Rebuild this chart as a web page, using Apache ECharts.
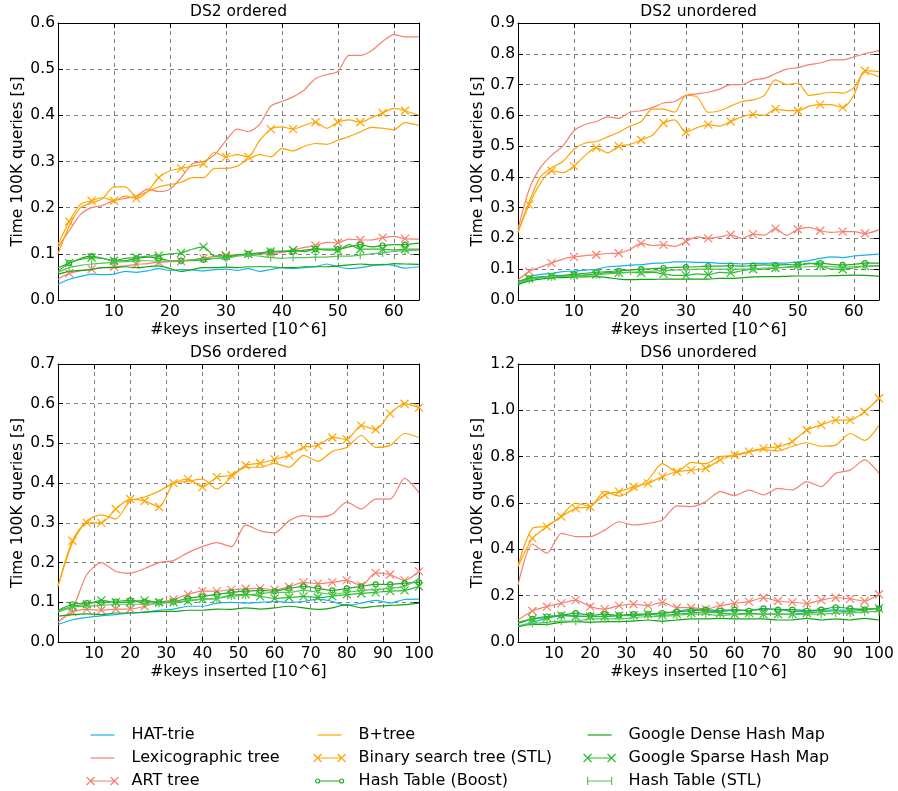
<!DOCTYPE html>
<html>
<head>
<meta charset="utf-8">
<script src="https://cdn.jsdelivr.net/npm/echarts@6/dist/echarts.min.js"></script>
<style>
  html, body { margin: 0; padding: 0; background: #fff; }
  #chart { width: 898px; height: 791px; }
</style>
</head>
<body>
<div id="chart"></div>
<script>
// ---- x positions (millions of keys inserted) ----
const xDS2 = [0, 2, 4, 6, 8, 10, 12, 14, 16, 18, 20, 22, 24, 26, 28, 30, 32, 34, 36, 38, 40, 42, 44, 46, 48, 50, 52, 54, 56, 58, 60, 62, 64.5];
const xDS6 = [0, 4, 8, 12, 16, 20, 24, 28, 32, 36, 40, 44, 48, 52, 56, 60, 64, 68, 72, 76, 80, 84, 88, 92, 96, 100];

// ---- DS2 ordered: time for 100K queries [s] ----
const ds2OrdHatTrie = [.034, .045, .051, .056, .055, .056, .062, .060, .063, .068, .064, .066, .065, .063, .066, .067, .064, .068, .062, .066, .070, .068, .070, .072, .078, .072, .068, .070, .074, .077, .075, .069, .072];
const ds2OrdLexTree = [.115, .150, .185, .200, .205, .215, .220, .225, .240, .235, .240, .265, .295, .300, .315, .345, .370, .365, .380, .420, .430, .440, .455, .480, .488, .495, .530, .530, .540, .560, .575, .570, .570];
const ds2OrdArtTree = [.045, .058, .063, .067, .070, .072, .074, .077, .079, .082, .083, .084, .087, .090, .095, .097, .097, .100, .100, .100, .103, .108, .114, .118, .125, .124, .132, .130, .130, .135, .138, .133, .132];
const ds2OrdBPlus = [.100, .160, .200, .210, .220, .245, .245, .225, .235, .245, .250, .255, .265, .265, .285, .285, .290, .305, .315, .310, .328, .323, .333, .339, .337, .346, .354, .364, .374, .372, .369, .384, .378];
const ds2OrdBst = [.120, .170, .207, .215, .222, .215, .225, .220, .235, .265, .280, .285, .290, .295, .320, .310, .315, .310, .345, .370, .375, .370, .378, .385, .372, .385, .390, .385, .395, .405, .415, .410, .400];
const ds2OrdBoost = [.070, .080, .090, .095, .090, .085, .085, .090, .093, .090, .085, .085, .085, .087, .090, .092, .097, .100, .102, .105, .106, .105, .108, .110, .110, .110, .115, .120, .115, .118, .120, .120, .123];
const ds2OrdDense = [.056, .062, .064, .066, .070, .070, .072, .070, .072, .074, .068, .062, .066, .070, .070, .071, .070, .072, .072, .072, .070, .070, .072, .072, .072, .074, .076, .078, .076, .076, .079, .078, .077];
const ds2OrdSparse = [.062, .080, .088, .092, .090, .085, .090, .092, .095, .096, .100, .102, .110, .115, .095, .095, .097, .100, .100, .105, .105, .108, .105, .110, .108, .108, .120, .110, .110, .110, .108, .110, .110];
const ds2OrdStl = [.060, .070, .075, .078, .080, .082, .083, .085, .085, .084, .085, .085, .087, .090, .090, .090, .095, .097, .095, .092, .090, .092, .092, .093, .093, .095, .095, .097, .100, .102, .105, .107, .108];

// ---- DS2 unordered ----
const ds2UnoHatTrie = [.048, .075, .083, .086, .092, .094, .097, .100, .108, .110, .113, .115, .119, .120, .124, .124, .122, .122, .119, .119, .117, .119, .119, .120, .120, .124, .128, .135, .140, .138, .143, .146, .149];
const ds2UnoLexTree = [.230, .360, .430, .470, .500, .550, .570, .580, .595, .590, .610, .615, .625, .640, .645, .665, .670, .675, .685, .700, .700, .715, .720, .735, .750, .755, .765, .770, .780, .780, .790, .800, .810];
const ds2UnoArtTree = [.065, .093, .107, .120, .133, .140, .144, .147, .151, .152, .164, .184, .177, .179, .174, .190, .205, .200, .205, .212, .200, .214, .211, .232, .210, .230, .236, .225, .220, .222, .222, .216, .228];
const ds2UnoBPlus = [.220, .320, .400, .430, .450, .490, .510, .515, .530, .545, .565, .580, .620, .620, .610, .665, .660, .610, .615, .630, .645, .650, .665, .715, .700, .705, .665, .670, .675, .672, .690, .740, .725];
const ds2UnoBst = [.220, .310, .380, .420, .414, .435, .470, .495, .478, .500, .505, .520, .535, .575, .585, .545, .560, .570, .565, .580, .595, .603, .600, .620, .615, .615, .630, .635, .635, .625, .665, .745, .742];
const ds2UnoBoost = [.060, .070, .075, .078, .080, .083, .087, .090, .092, .095, .097, .100, .102, .104, .106, .107, .108, .110, .110, .112, .110, .112, .114, .113, .115, .114, .118, .120, .116, .114, .116, .120, .120];
const ds2UnoDense = [.050, .062, .068, .072, .073, .075, .075, .076, .073, .068, .066, .067, .067, .068, .068, .068, .068, .068, .070, .070, .072, .075, .076, .076, .077, .078, .078, .078, .079, .080, .081, .080, .077];
const ds2UnoSparse = [.060, .070, .075, .077, .078, .080, .082, .083, .090, .088, .090, .088, .090, .085, .080, .080, .085, .082, .090, .088, .095, .100, .100, .104, .107, .112, .120, .112, .100, .100, .104, .110, .112];
const ds2UnoStl = [.055, .066, .072, .075, .077, .078, .080, .082, .085, .088, .090, .092, .094, .095, .097, .098, .100, .100, .100, .100, .100, .102, .104, .105, .106, .107, .108, .110, .108, .106, .108, .110, .110];

// ---- DS6 ordered ----
const ds6OrdHatTrie = [.044, .056, .062, .066, .069, .073, .075, .080, .083, .090, .090, .098, .100, .098, .100, .102, .100, .102, .108, .102, .092, .098, .105, .098, .107, .108];
const ds6OrdLexTree = [.050, .085, .170, .200, .178, .173, .185, .200, .205, .225, .240, .250, .240, .295, .280, .275, .305, .318, .315, .322, .352, .335, .360, .360, .412, .376];
const ds6OrdArtTree = [.050, .075, .082, .080, .083, .083, .090, .100, .107, .120, .128, .128, .132, .134, .135, .132, .139, .150, .147, .150, .155, .142, .174, .170, .155, .178];
const ds6OrdBPlus = [.140, .250, .305, .320, .310, .355, .365, .380, .400, .405, .410, .385, .415, .440, .440, .450, .440, .470, .455, .480, .490, .520, .490, .495, .525, .515];
const ds6OrdBst = [.140, .255, .300, .300, .335, .360, .355, .340, .400, .410, .390, .415, .420, .445, .450, .460, .470, .490, .495, .515, .510, .545, .535, .575, .600, .590];
const ds6OrdBoost = [.080, .095, .098, .100, .102, .105, .102, .100, .102, .110, .115, .120, .125, .128, .130, .128, .135, .140, .135, .130, .135, .140, .145, .145, .148, .150];
const ds6OrdDense = [.065, .069, .071, .069, .073, .073, .075, .077, .077, .080, .080, .083, .082, .086, .083, .086, .090, .086, .082, .086, .094, .086, .090, .092, .094, .098];
const ds6OrdSparse = [.078, .090, .095, .105, .100, .100, .105, .100, .100, .103, .108, .110, .118, .120, .115, .110, .112, .115, .112, .115, .120, .122, .125, .128, .130, .140];
const ds6OrdStl = [.075, .088, .090, .092, .095, .095, .095, .097, .100, .105, .108, .110, .115, .118, .122, .125, .125, .130, .125, .120, .125, .130, .132, .135, .140, .160];

// ---- DS6 unordered ----
const ds6UnoHatTrie = [.066, .085, .102, .114, .114, .109, .109, .114, .114, .119, .124, .131, .142, .134, .131, .138, .134, .142, .142, .131, .131, .138, .138, .138, .142, .145];
const ds6UnoLexTree = [.246, .423, .383, .469, .455, .455, .483, .519, .505, .512, .527, .588, .584, .606, .649, .632, .656, .635, .663, .656, .692, .671, .728, .742, .786, .728];
const ds6UnoArtTree = [.095, .134, .153, .167, .181, .153, .142, .157, .163, .157, .171, .148, .148, .142, .157, .167, .174, .191, .177, .171, .167, .181, .191, .186, .177, .206];
const ds6UnoBPlus = [.330, .490, .500, .545, .600, .585, .650, .630, .660, .700, .770, .735, .775, .770, .800, .805, .820, .830, .825, .845, .860, .845, .850, .900, .870, .935];
const ds6UnoBst = [.325, .447, .498, .541, .577, .584, .635, .649, .670, .685, .714, .735, .742, .750, .786, .807, .822, .836, .843, .865, .915, .937, .958, .958, .994, 1.052];
const ds6UnoBoost = [.080, .100, .110, .115, .125, .115, .120, .115, .120, .120, .125, .130, .135, .140, .135, .140, .135, .145, .140, .140, .135, .140, .150, .145, .140, .145];
const ds6UnoDense = [.066, .076, .076, .085, .088, .085, .088, .088, .090, .095, .090, .095, .100, .100, .102, .100, .100, .100, .095, .095, .102, .095, .100, .095, .102, .095];
const ds6UnoSparse = [.085, .100, .105, .115, .110, .110, .110, .115, .115, .120, .115, .120, .125, .130, .125, .120, .125, .120, .120, .120, .125, .130, .135, .130, .140, .145];
const ds6UnoStl = [.070, .080, .085, .090, .090, .100, .100, .100, .105, .110, .110, .115, .120, .120, .115, .118, .120, .120, .120, .118, .120, .120, .125, .125, .130, .132];

// ---- panel titles and axis ranges ----
const panelTitles = ['DS2 ordered', 'DS2 unordered', 'DS6 ordered', 'DS6 unordered'];
const yMax = [0.6, 0.9, 0.7, 1.2];
const yStep = [0.1, 0.1, 0.1, 0.2];
const xMax = [64.5, 64.5, 100, 100];

const seriesNames = ['HAT-trie', 'Lexicographic tree', 'ART tree', 'B+tree', 'Binary search tree (STL)', 'Hash Table (Boost)', 'Google Dense Hash Map', 'Google Sparse Hash Map', 'Hash Table (STL)'];

const panelData = [
  { xs: xDS2, ys: [ds2OrdHatTrie, ds2OrdLexTree, ds2OrdArtTree, ds2OrdBPlus, ds2OrdBst, ds2OrdBoost, ds2OrdDense, ds2OrdSparse, ds2OrdStl] },
  { xs: xDS2, ys: [ds2UnoHatTrie, ds2UnoLexTree, ds2UnoArtTree, ds2UnoBPlus, ds2UnoBst, ds2UnoBoost, ds2UnoDense, ds2UnoSparse, ds2UnoStl] },
  { xs: xDS6, ys: [ds6OrdHatTrie, ds6OrdLexTree, ds6OrdArtTree, ds6OrdBPlus, ds6OrdBst, ds6OrdBoost, ds6OrdDense, ds6OrdSparse, ds6OrdStl] },
  { xs: xDS6, ys: [ds6UnoHatTrie, ds6UnoLexTree, ds6UnoArtTree, ds6UnoBPlus, ds6UnoBst, ds6UnoBoost, ds6UnoDense, ds6UnoSparse, ds6UnoStl] }
];

// ---- look ----
const FONT = 'DejaVu Sans';
const FS = 15.5;
const SYM_X = 'path://M0,0L10,10M10,0L0,10';
const SYM_BAR = 'path://M5,0L5,10M0,5M10,5';
const styles = [
  { color: '#14b4ec', marker: 'none' },
  { color: '#f7806f', marker: 'none' },
  { color: '#f7806f', marker: 'x' },
  { color: '#ffa500', marker: 'none' },
  { color: '#ffa500', marker: 'x' },
  { color: '#22aa22', marker: 'o' },
  { color: '#11a611', marker: 'none' },
  { color: '#2dbb2d', marker: 'x' },
  { color: '#55c455', marker: '|' }
];
const markerSymbol = { none: 'none', x: SYM_X, o: 'circle', '|': SYM_BAR };
const markerSize = { none: 0, x: 8, o: 5, '|': 8 };
// legend icons: a short line with the marker drawn at both ends
const legendIcon = {
  none: 'path://M0,0M40,8M4,4L28,4',
  x: 'path://M0,0M40,8M4,4L28,4M0,0L8,8M0,8L8,0M24,0L32,8M24,8L32,0',
  o: 'path://M0,0M40,8M6,4L26,4M6,4A2,2,0,1,1,2,4A2,2,0,1,1,6,4M30,4A2,2,0,1,1,26,4A2,2,0,1,1,30,4',
  '|': 'path://M0,0M40,8M4,4L28,4M4,0L4,8M28,0L28,8'
};

const grids = [
  { left: 58, top: 23, width: 361, height: 277 },
  { left: 518, top: 23, width: 361, height: 277 },
  { left: 58, top: 364, width: 361, height: 278 },
  { left: 518, top: 364, width: 361, height: 278 }
];

const black = '#000';
const xAxes = [], yAxes = [], series = [];

grids.forEach((g, gi) => {
  const tick = { show: true, inside: true, length: 5, lineStyle: { color: black, width: 1 } };
  const line = { show: true, onZero: false, lineStyle: { color: black, width: 1 } };
  const split = { show: true, lineStyle: { color: '#808080', type: [4, 4], width: 1 } };
  // bottom x axis
  xAxes.push({
    gridIndex: gi, type: 'value', position: 'bottom', min: 0, max: xMax[gi], interval: 10,
    axisLine: line, axisTick: tick, splitLine: split,
    axisLabel: {
      color: black, fontFamily: FONT, fontSize: FS, margin: 4,
      formatter: v => (v === 0 || v % 10 !== 0) ? '' : String(v)
    },
    name: '#keys inserted [10^6]', nameLocation: 'middle', nameGap: 22,
    nameTextStyle: { color: black, fontFamily: FONT, fontSize: FS }
  });
  // top x axis: frame, ticks and panel title
  xAxes.push({
    gridIndex: gi, type: 'value', position: 'top', min: 0, max: xMax[gi], interval: 10,
    axisLine: line, axisTick: tick, splitLine: { show: false }, axisLabel: { show: false },
    name: panelTitles[gi], nameLocation: 'middle', nameGap: 3,
    nameTextStyle: { color: black, fontFamily: FONT, fontSize: FS }
  });
  // left y axis
  yAxes.push({
    gridIndex: gi, type: 'value', position: 'left', min: 0, max: yMax[gi], interval: yStep[gi],
    axisLine: line, axisTick: tick, splitLine: split,
    axisLabel: { color: black, fontFamily: FONT, fontSize: FS, margin: 3, formatter: v => v.toFixed(1) },
    name: 'Time 100K queries [s]', nameLocation: 'middle', nameGap: 30,
    nameTextStyle: { color: black, fontFamily: FONT, fontSize: FS }
  });
  // right y axis: frame and ticks only
  yAxes.push({
    gridIndex: gi, type: 'value', position: 'right', min: 0, max: yMax[gi], interval: yStep[gi],
    axisLine: line, axisTick: tick, splitLine: { show: false }, axisLabel: { show: false }
  });

  const p = panelData[gi];
  const everyOther = p.xs.length > 30;
  p.ys.forEach((ys, si) => {
    const st = styles[si];
    const sym = markerSymbol[st.marker];
    const data = p.xs.map((x, i) => {
      const show = st.marker !== 'none' && (everyOther ? i % 2 === 1 : i > 0);
      return { value: [x, ys[i]], symbol: show ? sym : 'none' };
    });
    series.push({
      type: 'line', name: seriesNames[si], xAxisIndex: gi * 2, yAxisIndex: gi * 2,
      data, smooth: 0.25, showAllSymbol: true,
      symbol: sym, symbolSize: markerSize[st.marker],
      lineStyle: { color: st.color, width: 1.2 },
      itemStyle: { color: 'rgba(255,255,255,0)', borderColor: st.color, borderWidth: 1.2 },
      emphasis: { disabled: true }, silent: true, z: 2 + si
    });
  });
});

function legendItem(si) {
  const st = styles[si];
  return {
    name: seriesNames[si], icon: legendIcon[st.marker],
    itemStyle: { color: 'rgba(255,255,255,0)', borderColor: st.color, borderWidth: 1.2 }
  };
}
function legendColumn(left, ids) {
  return {
    orient: 'vertical', left, top: 722, width: 300, height: 90,
    itemWidth: 40, itemHeight: 16, itemGap: 7,
    symbolKeepAspect: true, selectedMode: false,
    textStyle: { color: black, fontFamily: FONT, fontSize: 16, lineHeight: 16 },
    data: ids.map(legendItem)
  };
}

const chart = echarts.init(document.getElementById('chart'), null, { renderer: 'canvas' });
chart.setOption({
  animation: false,
  backgroundColor: '#fff',
  grid: grids,
  xAxis: xAxes,
  yAxis: yAxes,
  legend: [
    legendColumn(81, [0, 1, 2]),
    legendColumn(308, [3, 4, 5]),
    legendColumn(578, [6, 7, 8])
  ],
  series
});
</script>
</body>
</html>
